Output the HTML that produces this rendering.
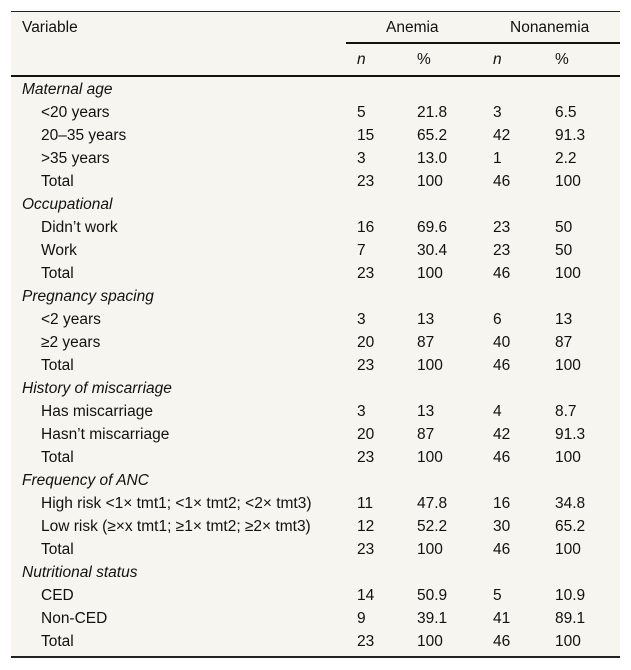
<!DOCTYPE html>
<html><head><meta charset="utf-8"><style>
body{margin:0;width:631px;height:670px;background:#fff;font-family:"Liberation Sans",sans-serif;font-size:15.5px;color:#111;position:relative;overflow:hidden}
#tbl{position:absolute;left:11px;top:11px;width:609px;height:647px;background:#f7f5f0;border-top:1px solid #222;border-bottom:2px solid #222;box-sizing:border-box}
.t{position:absolute;line-height:16px;white-space:nowrap}
.line{position:absolute;background:#111}
i{font-style:italic}
</style></head><body>
<div id="tbl"></div>
<div class="t" style="left:22px;top:20px">Variable</div>
<div class="t" style="left:386px;top:20px">Anemia</div>
<div class="t" style="left:510px;top:20px">Nonanemia</div>
<div class="line" style="left:346px;top:42px;width:274px;height:2px"></div>
<div class="t" style="left:357px;top:52px"><i>n</i></div>
<div class="t" style="left:417px;top:52px">%</div>
<div class="t" style="left:493px;top:52px"><i>n</i></div>
<div class="t" style="left:555px;top:52px">%</div>
<div class="line" style="left:11px;top:75px;width:609px;height:2px"></div>
<div id="rows"></div>
<script>
const rows=[
["g","Maternal age"],["r","<20 years","5","21.8","3","6.5"],["r","20–35 years","15","65.2","42","91.3"],["r",">35 years","3","13.0","1","2.2"],["r","Total","23","100","46","100"],
["g","Occupational"],["r","Didn’t work","16","69.6","23","50"],["r","Work","7","30.4","23","50"],["r","Total","23","100","46","100"],
["g","Pregnancy spacing"],["r","<2 years","3","13","6","13"],["r","≥2 years","20","87","40","87"],["r","Total","23","100","46","100"],
["g","History of miscarriage"],["r","Has miscarriage","3","13","4","8.7"],["r","Hasn’t miscarriage","20","87","42","91.3"],["r","Total","23","100","46","100"],
["g","Frequency of ANC"],["r","High risk <1× tmt1; <1× tmt2; <2× tmt3)","11","47.8","16","34.8"],["r","Low risk (≥×x tmt1; ≥1× tmt2; ≥2× tmt3)","12","52.2","30","65.2"],["r","Total","23","100","46","100"],
["g","Nutritional status"],["r","CED","14","50.9","5","10.9"],["r","Non-CED","9","39.1","41","89.1"],["r","Total","23","100","46","100"]
];
const cols=[357,417,493,555];
const host=document.getElementById('rows');
rows.forEach((r,i)=>{
 const top=82+i*23;
 const d=document.createElement('div');
 d.className='t';d.style.left=(r[0]=='g'?22:41)+'px';d.style.top=top+'px';
 if(r[0]=='g')d.style.fontStyle='italic';
 d.textContent=r[1];
 
 
 host.appendChild(d);
 if(r[0]=='r'){for(let k=0;k<4;k++){
  const c=document.createElement('div');c.className='t';c.style.left=cols[k]+'px';c.style.top=top+'px';c.textContent=r[2+k];
  
  
  host.appendChild(c);}}
});
</script>
</body></html>
